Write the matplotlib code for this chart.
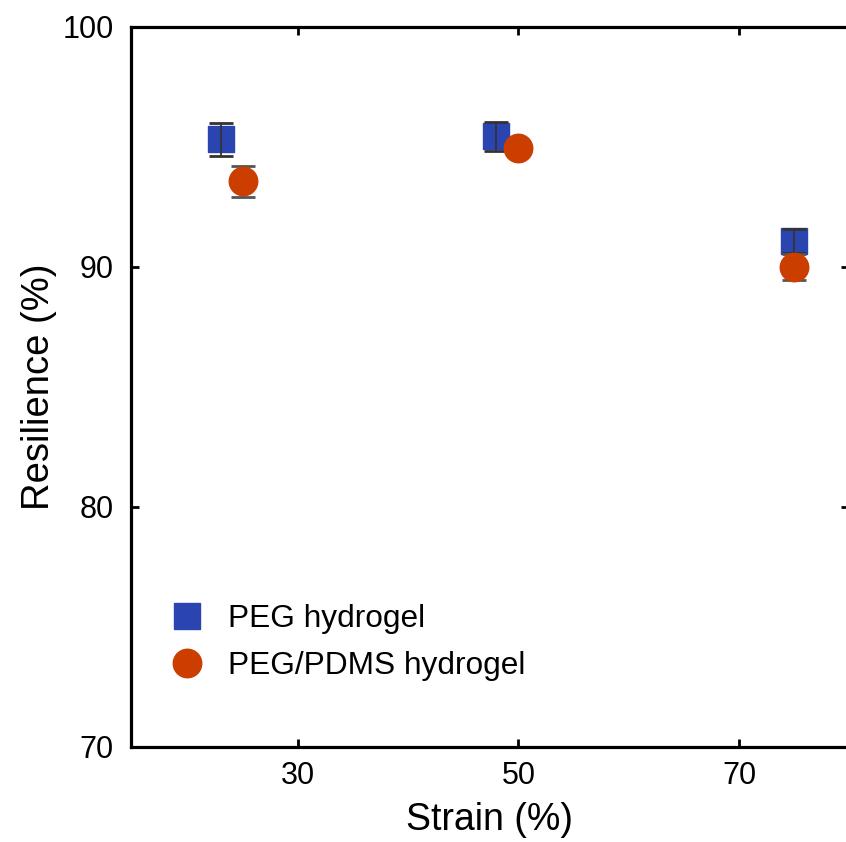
import matplotlib.pyplot as plt

plt.rcParams['font.family'] = ['Liberation Sans', 'DejaVu Sans']

# data
peg_strain = [23, 48, 75]
peg_res = [95.32, 95.44, 91.08]
peg_err = [0.7, 0.61, 0.5]

pdms_strain = [25, 50, 75]
pdms_res = [93.57, 94.96, 90.0]
pdms_err = [0.64, 0.3, 0.55]

blue = '#2B45B0'
orange = '#CC3D00'

fig = plt.figure(figsize=(8.46, 8.42), dpi=100)
W, H = 846, 842
ax = fig.add_axes([130.5 / W, 95 / H, 718.75 / W, 720 / H])

ax.plot(peg_strain, peg_res, 's', color=blue, markersize=18.5, label='PEG hydrogel', zorder=2)
ax.errorbar(peg_strain, peg_res, yerr=peg_err, fmt='none', ecolor='#333333',
            elinewidth=1.3, capsize=8.5, capthick=2, zorder=3)
ax.errorbar(pdms_strain, pdms_res, yerr=pdms_err, fmt='none', ecolor='#555555',
            elinewidth=1.3, capsize=8.5, capthick=2, zorder=4)
ax.plot(pdms_strain, pdms_res, 'o', color=orange, markersize=20.5, label='PEG/PDMS hydrogel', zorder=5)

ax.set_xlim(14.81, 80)
ax.set_ylim(70, 100)
ax.set_xticks([30, 50, 70])
ax.set_yticks([70, 80, 90, 100])

ax.tick_params(direction='in', length=6, width=2, labelsize=22, top=True, right=True)
ax.tick_params(axis='x', pad=10)
ax.tick_params(axis='y', pad=12)
for s in ax.spines.values():
    s.set_linewidth(2.3)

ax.set_xlabel('Strain (%)', fontsize=27, labelpad=8)
ax.set_ylabel('Resilience (%)', fontsize=27.5, labelpad=4)

ax.legend(loc='lower left', bbox_to_anchor=(0.017, 0.052), frameon=False, fontsize=22.75,
          handletextpad=0.8, labelspacing=0.55, handlelength=1.0)

fig.savefig('out.png', dpi=100)
